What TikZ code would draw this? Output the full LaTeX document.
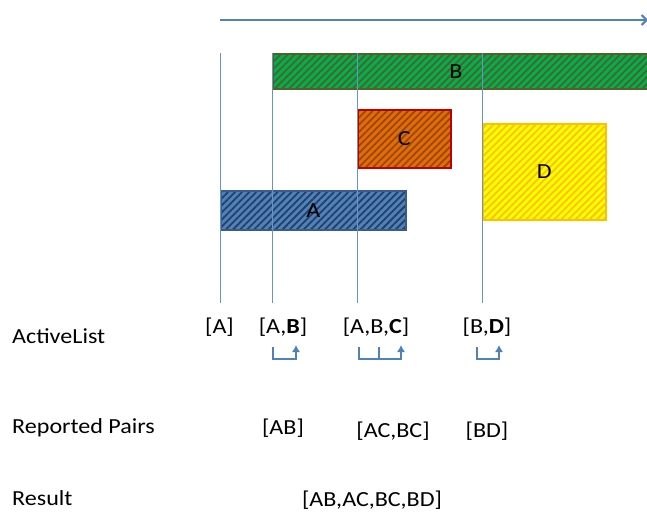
\documentclass[tikz,border=0pt]{standalone}
\usepackage{fontspec}
\setmainfont{Carlito}[FakeStretch=1.12]
\usepackage{tikz}
\usetikzlibrary{patterns.meta}
\usetikzlibrary{arrows.meta}
\definecolor{sweepblue}{RGB}{79,129,189}
\definecolor{boxA}{RGB}{79,129,189}
\definecolor{hatchA}{RGB}{37,64,97}
\definecolor{lineA}{RGB}{56,93,138}
\definecolor{boxB}{RGB}{0,176,80}
\definecolor{hatchB}{RGB}{79,98,40}
\definecolor{boxC}{RGB}{227,108,9}
\definecolor{hatchC}{RGB}{152,72,7}
\definecolor{lineC}{RGB}{192,0,0}
\definecolor{boxD}{RGB}{255,255,0}
\definecolor{hatchD}{RGB}{255,192,0}

\begin{document}
\begin{tikzpicture}[x=1pt, y=-1pt]
    \tikzset{ txt/.style={font=\fontsize{21.5}{24}\selectfont, inner sep=0pt, text=black} }
    \tikzset{ obj/.style n args={3}{draw=#1, line width=1.6pt, inner sep=0pt, preaction={fill=#2},
                                    pattern={Lines[angle=45, distance=5pt, line width=1.8pt]}, pattern color=#3,
                                    font=\fontsize{21.5}{24}\selectfont} }
    \tikzset{ sweep/.style={draw=sweepblue!85, line width=0.9pt} }
    \tikzset{ link/.style={draw=sweepblue, line width=1.1pt} }

    \clip (0,0) rectangle (647,512);

    % objects along the sweep axis
    \node[obj={hatchB}{boxB}{hatchB}, anchor=north west, minimum width=390pt, minimum height=35pt,
          label={[font=\fontsize{21.5}{24}\selectfont, xshift=-12pt]center:B}] (b) at (272,53) {};
    \node[obj={lineC}{boxC}{hatchC},  anchor=north west, minimum width=93pt,  minimum height=58pt] (c) at (357,109) {C};
    \node[obj={hatchD}{boxD}{hatchD}, anchor=north west, minimum width=123pt, minimum height=96pt] (d) at (482,123) {D};
    \node[obj={lineA}{boxA}{hatchA},  anchor=north west, minimum width=185pt, minimum height=39pt] (a) at (220,190) {A};

    % sweep axis and event lines
    \coordinate (axis0) at (220,20);
    \coordinate (axis1) at (648,20);
    \draw[draw=sweepblue, line width=2pt, -{Straight Barb[length=5pt, width=10pt]}] (axis0) -- (axis1);
    \foreach \x/\n in {220/a, 272/b, 357/c, 482/d} {
        \coordinate (top-\n) at (\x,53);
        \coordinate (bot-\n) at (\x,303);
        \draw[sweep] (top-\n) -- (bot-\n);
    }

    % row titles
    \node[txt, anchor=base west] (active)   at (12,343) {ActiveList};
    \node[txt, anchor=base west] (reported) at (12,433) {Reported Pairs};
    \node[txt, anchor=base west] (result)   at (12,505) {Result};

    % active lists
    \node[txt, anchor=base] (la)   at (219.5,333) {[A]};
    \node[txt, anchor=base] (lab)  at (283,333)   {[A,\textbf{B}]};
    \node[txt, anchor=base] (labc) at (376,333)   {[A,B,\textbf{C}]};
    \node[txt, anchor=base] (lbd)  at (487,333)   {[B,\textbf{D}]};

    \coordinate (ab-a)  at (273,347);
    \coordinate (ab-b)  at (296,345);
    \coordinate (abc-a) at (359,347);
    \coordinate (abc-b) at (379,347);
    \coordinate (abc-c) at (401,345);
    \coordinate (bd-b)  at (477,347);
    \coordinate (bd-d)  at (499,345);

    \draw[link, -{Latex[length=7pt, width=8pt]}] (ab-a)  -- ++(0,12) -| (ab-b);
    \draw[link, -{Latex[length=7pt, width=8pt]}] (abc-a) -- ++(0,12) -| (abc-c);
    \draw[link]                                  (abc-b) -- ++(0,12);
    \draw[link, -{Latex[length=7pt, width=8pt]}] (bd-b)  -- ++(0,12) -| (bd-d);

    % reported pairs
    \node[txt, anchor=base] (pab)   at (283,434) {[AB]};
    \node[txt, anchor=base] (pacbc) at (393,437) {[AC,BC]};
    \node[txt, anchor=base] (pbd)   at (487,437) {[BD]};

    % result
    \node[txt, anchor=base] (res) at (372,506) {[AB,AC,BC,BD]};
\end{tikzpicture}
\end{document}
